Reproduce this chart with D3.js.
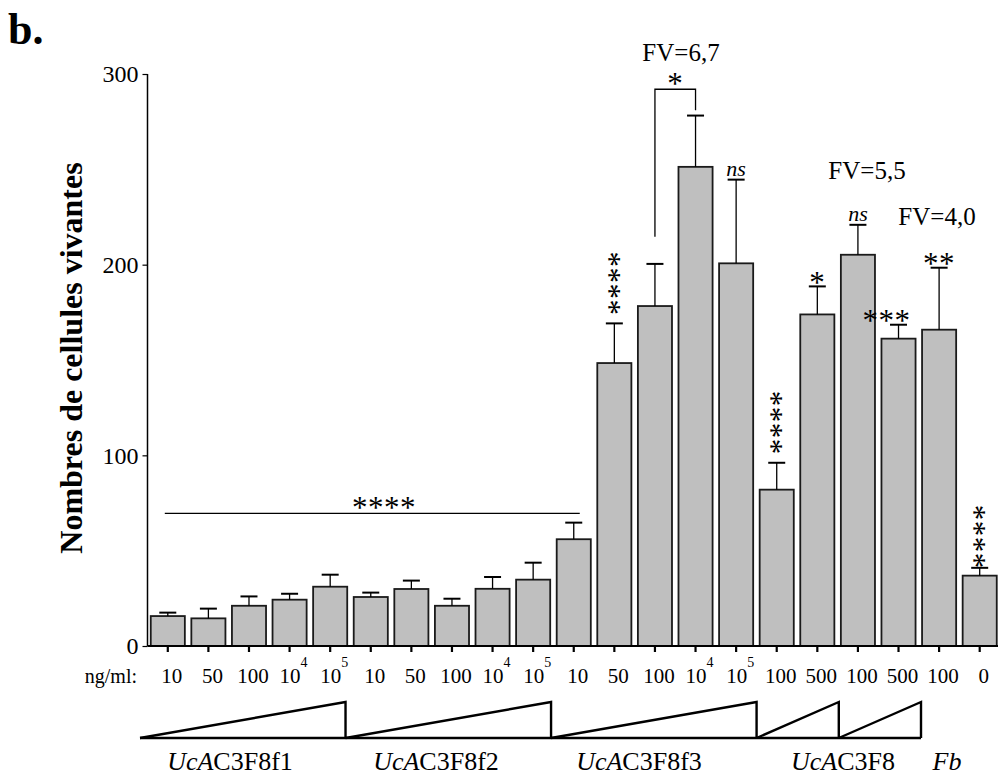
<!DOCTYPE html>
<html><head><meta charset="utf-8">
<script src="https://cdn.jsdelivr.net/npm/d3@7"></script>
<style>
body{margin:0;background:#fff}
text{font-family:"Liberation Serif","Times New Roman",serif;fill:#000}
</style>
</head><body>
<svg id="c" width="998" height="775"></svg>
<script>
// ---------- data ----------
const doses    = ["10","50","100","10","10","10","50","100","10","10","10","50","100","10","10","100","500","100","500","100","0"];
const doseExp  = ["","","","4","5","","","","4","5","","","","4","5","","","","","",""];
const means    = [15.7,14.5,21.1,24.3,31.1,25.7,29.9,21.1,30.0,34.8,56.0,148.4,178.3,251.3,200.7,82.0,173.9,205.2,161.2,165.9,36.9];
const sem      = [1.8,5.1,4.9,3.1,6.3,2.3,4.4,3.7,6.2,8.9,8.7,20.8,22.1,26.9,43.9,14.1,14.7,15.7,7.3,32.5,4.1];
const yTicks   = [0,100,200,300];
const groupItalic = ["UcA","UcA","UcA","UcA","Fb"];
const groupRoman  = ["C3F8f1","C3F8f2","C3F8f3","C3F8",""];
const triStart = [0,5,10,15,17];
const triEnd   = [5,10,15,17,19];
const sigBars  = [11,15,20,16,18,19];
const sigText  = ["****","****","****","*","***","**"];
const sigVert  = [true,true,true,false,false,false];
const nsBars   = [14,17];
const fvText   = ["FV=6,7","FV=5,5","FV=4,0"];

// ---------- layout ----------
const svg = d3.select("#c");
const idx = d3.range(means.length);
const x = d3.scaleBand().domain(idx).range([147.5,1000]).paddingInner(0.16).paddingOuter(0.08);
const y = d3.scaleLinear().domain([0,300]).range([646,74]);
const cx = i => x(i) + x.bandwidth()/2;

// panel letter
svg.append("text").attr("x",8).attr("y",44).attr("font-size",44).attr("font-weight","bold").text("b.");

// y axis title
svg.append("text").attr("transform","translate(82,358) rotate(-90)")
  .attr("text-anchor","middle").attr("font-size",32).attr("font-weight","bold")
  .text("Nombres de cellules vivantes");

// y axis
const ya = svg.append("g").attr("transform","translate(147.5,0)")
  .call(d3.axisLeft(y).tickValues(yTicks).tickSize(5).tickPadding(4));
ya.select(".domain").attr("stroke","#000").attr("stroke-width",1.5).attr("d","M0,"+y(0)+"V"+y(300));
ya.selectAll(".tick line").attr("stroke","#000").attr("stroke-width",1.2);
ya.selectAll(".tick text").attr("font-size",24).attr("font-family","Liberation Serif").attr("dy","0.33em");

// bars
svg.append("g").selectAll("rect").data(idx).join("rect")
  .attr("x",i=>x(i)).attr("width",x.bandwidth())
  .attr("y",i=>y(means[i])).attr("height",i=>y(0)-y(means[i]))
  .attr("fill","#bfbfbf").attr("stroke","#1a1a1a").attr("stroke-width",1.8);

// error bars
const eg = svg.append("g").attr("stroke","#000");
eg.selectAll("line.v").data(idx).join("line").attr("class","v")
  .attr("x1",cx).attr("x2",cx).attr("y1",i=>y(means[i])).attr("y2",i=>y(means[i]+sem[i])).attr("stroke-width",1.3);
eg.selectAll("line.c").data(idx).join("line").attr("class","c")
  .attr("x1",i=>cx(i)-8.5).attr("x2",i=>cx(i)+8.5).attr("y1",i=>y(means[i]+sem[i])).attr("y2",i=>y(means[i]+sem[i])).attr("stroke-width",2);

// x axis
const xa = svg.append("g").attr("transform","translate(0,"+y(0)+")")
  .call(d3.axisBottom(x).tickSize(6).tickFormat(""));
xa.select(".domain").attr("stroke","#000").attr("stroke-width",2).attr("d","M147.5,0H1000");
xa.selectAll(".tick line").attr("stroke","#000").attr("stroke-width",2.2);
const lab = svg.append("g");
lab.selectAll("text.d").data(idx).join("text").attr("class","d")
  .attr("x",i=>cx(i)+4).attr("y",683).attr("text-anchor","middle").attr("font-size",21)
  .each(function(i){
    const t = d3.select(this);
    t.append("tspan").text(doses[i]);
    if(doseExp[i]) t.append("tspan").attr("font-size",14).attr("dy",-16).text(doseExp[i]);
  });
svg.append("text").attr("x",137).attr("y",683).attr("text-anchor","end").attr("font-size",20).text("ng/ml:");

// triangles
const tri = d3.scaleLinear().domain([0,19]).range([140,921]);
const tg = svg.append("g").attr("fill","none").attr("stroke","#000").attr("stroke-width",2.4).attr("stroke-linejoin","miter");
tg.append("line").attr("x1",tri(0)).attr("x2",tri(19)).attr("y1",738).attr("y2",738);
triStart.forEach((s,k)=>{
  const a=tri(s), b=tri(triEnd[k]);
  tg.append("path").attr("d",`M${a},738L${b},702L${b},738`);
});
// group labels
const glx = [230,436,639,843,947];
groupItalic.forEach((g,k)=>{
  const t = svg.append("text").attr("x",glx[k]).attr("y",770).attr("text-anchor","middle").attr("font-size",26);
  t.append("tspan").attr("font-style","italic").text(g);
  if(groupRoman[k]) t.append("tspan").text(groupRoman[k]);
});

// significance stars
const SF = 31, SP = 16;
function stars(str, xc, yc, vertical){
  const t = svg.append("text").attr("text-anchor","middle").attr("font-size",SF)
    .attr("letter-spacing",(SP-SF*0.5)+"px").text(str);
  if(vertical) t.attr("transform",`translate(${xc-0.5*SF},${yc}) rotate(90)`);
  else t.attr("x",xc).attr("y",yc+0.5*SF);
}
sigBars.forEach((b,k)=>{
  const top = y(means[b]+sem[b]);
  const n = sigText[k].length;
  if(sigVert[k]){
    const off = b===20 ? 7 : 16;
    stars(sigText[k], cx(b), top-off-(n-1)*SP/2, true);
  } else {
    const shift = b===18 ? -12 : 0;
    stars(sigText[k], cx(b)+shift, top-9, false);
  }
});
// long line **** over first groups
const ly = y(69.6);
svg.append("line").attr("x1",cx(0)-3).attr("x2",cx(10)+6).attr("y1",ly).attr("y2",ly).attr("stroke","#000").attr("stroke-width",1.3);
stars("****", 384, ly-11, false);

// bracket between bars 12 and 13
const bl = cx(12), br = cx(13);
svg.append("path").attr("d",`M${bl},${y(214.6)}V${y(292)}H${br}V${y(281)}`)
  .attr("fill","none").attr("stroke","#000").attr("stroke-width",1.3);
stars("*", (bl+br)/2, y(297.5), false);

// ns labels
nsBars.forEach(b=>{
  svg.append("text").attr("x",cx(b)).attr("y",y(means[b]+sem[b])-4).attr("text-anchor","middle")
    .attr("font-size",22).attr("font-style","italic").text("ns");
});

// FV labels
const fvX = [681,867,937], fvY = [61,179,225];
fvText.forEach((t,k)=>{
  svg.append("text").attr("x",fvX[k]).attr("y",fvY[k]).attr("text-anchor","middle").attr("font-size",25).text(t);
});
</script>
</body></html>
